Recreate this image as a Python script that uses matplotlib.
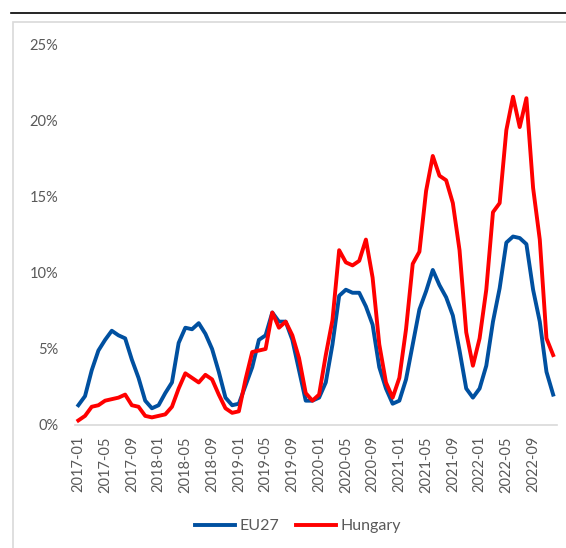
import matplotlib.pyplot as plt
from matplotlib.patches import Rectangle
from matplotlib.lines import Line2D

plt.rcParams['font.family'] = ['Lato', 'DejaVu Sans']

# monthly share, 2017-01 .. 2022-12 (percent)
months = [f"{y}-{m:02d}" for y in range(2017, 2023) for m in range(1, 13)]

eu27 = [1.3, 1.9, 3.6, 4.9, 5.6, 6.2, 5.9, 5.7, 4.3, 3.1, 1.6, 1.1,
        1.3, 2.1, 2.8, 5.4, 6.4, 6.3, 6.7, 6.0, 5.0, 3.5, 1.8, 1.3,
        1.4, 2.6, 3.8, 5.6, 5.9, 7.4, 6.8, 6.8, 5.6, 3.6, 1.6, 1.6,
        1.8, 2.8, 5.3, 8.5, 8.9, 8.7, 8.7, 7.8, 6.6, 3.8, 2.4, 1.4,
        1.6, 3.0, 5.3, 7.6, 8.8, 10.2, 9.2, 8.4, 7.2, 4.9, 2.4, 1.8,
        2.4, 3.9, 6.8, 9.0, 12.0, 12.4, 12.3, 11.9, 8.9, 6.8, 3.5, 2.0]

hungary = [0.3, 0.6, 1.2, 1.3, 1.6, 1.7, 1.8, 2.0, 1.3, 1.2, 0.6, 0.5,
           0.6, 0.7, 1.2, 2.4, 3.4, 3.1, 2.8, 3.3, 3.0, 2.0, 1.1, 0.8,
           0.9, 3.0, 4.8, 4.9, 5.0, 7.4, 6.4, 6.8, 5.9, 4.4, 2.1, 1.6,
           2.0, 4.6, 6.9, 11.5, 10.7, 10.5, 10.8, 12.2, 9.7, 5.3, 2.8, 1.8,
           3.1, 6.3, 10.6, 11.4, 15.4, 17.7, 16.4, 16.1, 14.6, 11.5, 6.1, 3.9,
           5.7, 8.9, 14.0, 14.6, 19.4, 21.6, 19.6, 21.5, 15.6, 12.2, 5.7, 4.6]

yticks = [0, 5, 10, 15, 20, 25]

fig = plt.figure(figsize=(5.66, 5.48), dpi=100)
W, H = 566, 548

# frame decorations
fig.add_artist(Line2D([11 / W, 1], [1 - 13 / H, 1 - 13 / H], color='black', lw=1.2))
fig.add_artist(Rectangle((13 / W, -0.01), 1, 1 - 22 / H + 0.01, fill=False,
                         edgecolor='#D9D9D9', lw=1.2))

ax = fig.add_axes([75 / W, 1 - 425 / H, 481.5 / W, 380 / H])
x = list(range(len(months)))
ax.plot(x, eu27, color='#0050A0', lw=2.8, label='EU27', solid_joinstyle='round')
ax.plot(x, hungary, color='#FF0000', lw=2.8, label='Hungary', solid_joinstyle='round')

ax.set_xlim(-0.5, len(months) - 0.5)
ax.set_ylim(0, 25)
ax.set_yticks(yticks)
ax.set_yticklabels([f"{v}%" for v in yticks])
ax.set_xticks(x[::4])
ax.set_xticklabels(months[::4], rotation=90)
ax.tick_params(axis='y', length=0, pad=12, labelsize=10.5, labelcolor='#595959')
ax.tick_params(axis='x', length=0, pad=8, labelsize=10.5, labelcolor='#595959')

for s in ['top', 'right', 'left']:
    ax.spines[s].set_visible(False)
ax.spines['bottom'].set_color('#D9D9D9')
ax.spines['bottom'].set_linewidth(1.2)

leg = fig.legend(loc='center', bbox_to_anchor=(298 / W, 1 - 526 / H), ncol=2, frameon=False,
                 fontsize=11.5, handlelength=2.5, handletextpad=0.25, columnspacing=1.1)
for t in leg.get_texts():
    t.set_color('#595959')

fig.savefig('out.png', dpi=100)
